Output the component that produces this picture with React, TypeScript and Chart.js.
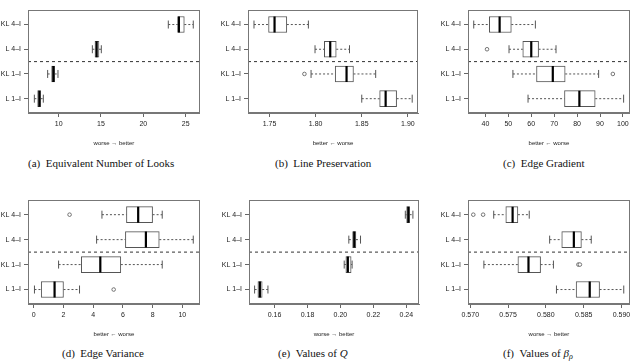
import React, { useEffect, useRef } from "react";
import { Chart, registerables } from "chart.js";

Chart.register(...registerables);

// Row labels, top to bottom
const categories = ["KL 4–I", "L 4–I", "KL 1–I", "L 1–I"];

// Five-number summaries per row: [lower whisker, Q1, median, Q3, upper whisker]
const enlStats = [
  [22.95, 24.06, 24.2, 24.84, 25.9],
  [13.98, 14.29, 14.49, 14.76, 15.04],
  [8.7, 9.17, 9.37, 9.53, 9.92],
  [7.13, 7.52, 7.72, 7.87, 8.19],
];
const enlOutliers: number[][] = [];
const enlTicks = [10, 15, 20, 25];
const enlTickLabels = ["10", "15", "20", "25"];
const enlRange = [6.38, 26.67];

const linePresStats = [
  [1.7331, 1.7489, 1.7554, 1.7687, 1.7921],
  [1.7993, 1.8094, 1.8158, 1.8223, 1.8367],
  [1.795, 1.8212, 1.8335, 1.841, 1.8651],
  [1.85, 1.8694, 1.8759, 1.8878, 1.9047],
];
const linePresOutliers = [[2, 1.7878]]; // [row, value]
const linePresTicks = [1.75, 1.8, 1.85, 1.9];
const linePresTickLabels = ["1.75", "1.80", "1.85", "1.90"];
const linePresRange = [1.7266, 1.911];

const gradStats = [
  [34.9, 41.7, 46.2, 51.3, 61.8],
  [50.3, 56.3, 60.0, 63.2, 70.8],
  [52.0, 62.3, 69.4, 74.8, 89.4],
  [58.6, 74.5, 81.0, 87.9, 100.3],
];
const gradOutliers = [[1, 40.7], [2, 95.6]];
const gradTicks = [40, 50, 60, 70, 80, 90, 100];
const gradTickLabels = ["40", "50", "60", "70", "80", "90", "100"];
const gradRange = [32.4, 103.0];

const varStats = [
  [4.59, 6.24, 7.03, 8.0, 8.65],
  [4.23, 6.17, 7.55, 8.45, 10.74],
  [1.67, 3.2, 4.48, 5.86, 8.65],
  [0.045, 0.5, 1.4, 2.0, 3.08],
];
const varOutliers = [[0, 2.41], [3, 5.38]];
const varTicks = [0, 2, 4, 6, 8, 10];
const varTickLabels = ["0", "2", "4", "6", "8", "10"];
const varRange = [-0.39, 11.18];

const qStats = [
  [0.2394, 0.2402, 0.2412, 0.242, 0.244],
  [0.2051, 0.2074, 0.2084, 0.2094, 0.2122],
  [0.2023, 0.2033, 0.2045, 0.2065, 0.2071],
  [0.1479, 0.1499, 0.1511, 0.1525, 0.156],
];
const qOutliers: number[][] = [];
const qTicks = [0.16, 0.18, 0.2, 0.22, 0.24];
const qTickLabels = ["0.16", "0.18", "0.20", "0.22", "0.24"];
const qRange = [0.1445, 0.2477];

const betaStats = [
  [0.5731, 0.5747, 0.5756, 0.5763, 0.5778],
  [0.5805, 0.5821, 0.5837, 0.5847, 0.586],
  [0.5718, 0.5763, 0.5777, 0.5793, 0.581],
  [0.5814, 0.584, 0.5858, 0.5871, 0.5903],
];
const betaOutliers = [[0, 0.5704], [0, 0.5717], [2, 0.5843], [2, 0.5845]];
const betaTicks = [0.57, 0.575, 0.58, 0.585, 0.59];
const betaTickLabels = ["0.570", "0.575", "0.580", "0.585", "0.590"];
const betaRange = [0.5697, 0.5911];

const WORSE_BETTER = "worse → better";
const BETTER_WORSE = "better ← worse";

const SANS = "'Liberation Sans', Arial, Helvetica, sans-serif";
const SERIF = "'Liberation Serif', 'Times New Roman', serif";

type PanelSpec = {
  stats: number[][];
  outliers: number[][];
  ticks: number[];
  tickLabels: string[];
  range: number[];
  axisTitle: string;
  left: number;
  top: number;
  width: number;
  height: number;
  padRight: number;
};

const framePlugin = {
  id: "frame",
  afterDraw(chart: any) {
    const { ctx, chartArea: a } = chart;
    ctx.save();
    ctx.strokeStyle = "#777";
    ctx.lineWidth = 1;
    const l = Math.round(a.left) + 0.5;
    const t = Math.round(a.top) + 0.5;
    const r = Math.round(a.right) - 0.5;
    const b = Math.round(a.bottom) - 0.5;
    ctx.strokeRect(l, t, r - l, b - t);
    ctx.restore();
  },
};

function BoxPanel({ spec }: { spec: PanelSpec }) {
  const ref = useRef<HTMLCanvasElement>(null);
  useEffect(() => {
    const canvas = ref.current;
    if (!canvas) return;
    const { stats, outliers, ticks, tickLabels, range, axisTitle } = spec;
    const pos = (i: number) => i + 1;
    const datasets: any[] = [];
    // dashed separator between 4-I and 1-I groups
    datasets.push({
      type: "line",
      data: [
        { x: range[0], y: 2.5 },
        { x: range[1], y: 2.5 },
      ],
      borderColor: "#333",
      borderWidth: 1,
      borderDash: [3, 3],
      pointRadius: 0,
      order: 10,
    });
    stats.forEach((s, i) => {
      datasets.push({
        type: "line",
        data: [
          { x: s[0], y: pos(i) },
          { x: s[1], y: pos(i) },
        ],
        borderColor: "#555",
        borderWidth: 1,
        borderDash: [2, 2],
        pointRadius: 0,
        order: 8,
      });
      datasets.push({
        type: "line",
        data: [
          { x: s[3], y: pos(i) },
          { x: s[4], y: pos(i) },
        ],
        borderColor: "#555",
        borderWidth: 1,
        borderDash: [2, 2],
        pointRadius: 0,
        order: 8,
      });
    });
    // whisker caps
    datasets.push({
      type: "line",
      showLine: false,
      data: stats.flatMap((s, i) => [
        { x: s[0], y: pos(i) },
        { x: s[4], y: pos(i) },
      ]),
      pointStyle: "line",
      pointRotation: 90,
      pointRadius: 4,
      pointBorderWidth: 1,
      pointBorderColor: "#555",
      order: 7,
    });
    // boxes
    datasets.push({
      type: "bar",
      data: stats.map((s, i) => ({ x: [s[1], s[3]], y: pos(i) })),
      backgroundColor: "#fff",
      borderColor: "#555",
      borderWidth: 1,
      borderSkipped: false,
      barThickness: 16,
      order: 5,
    });
    // medians
    datasets.push({
      type: "line",
      showLine: false,
      data: stats.map((s, i) => ({ x: s[2], y: pos(i) })),
      pointStyle: "line",
      pointRotation: 90,
      pointRadius: 8,
      pointBorderWidth: 2.2,
      pointBorderColor: "#000",
      order: 1,
    });
    // outliers
    datasets.push({
      type: "line",
      showLine: false,
      data: outliers.map(([r, v]) => ({ x: v, y: pos(r) })),
      pointStyle: "circle",
      pointRadius: 1.8,
      pointBorderWidth: 0.8,
      pointBorderColor: "#555",
      pointBackgroundColor: "#fff",
      order: 1,
    });

    const chart = new Chart(canvas, {
      type: "bar",
      data: { datasets },
      plugins: [framePlugin],
      options: {
        indexAxis: "y",
        responsive: false,
        devicePixelRatio: 1,
        animation: false,
        events: [],
        layout: { padding: { left: 0, right: spec.padRight, top: 0, bottom: 0 } },
        plugins: { legend: { display: false }, tooltip: { enabled: false }, title: { display: false } },
        scales: {
          x: {
            type: "linear",
            position: "bottom",
            min: range[0],
            max: range[1],
            bounds: "data",
            offset: false,
            afterBuildTicks: (s: any) => {
              s.ticks = ticks.map((v) => ({ value: v }));
            },
            afterFit: (s: any) => {
              s.height = 34;
              s.paddingLeft = 0;
              s.paddingRight = 0;
            },
            ticks: {
              autoSkip: false,
              maxRotation: 0,
              padding: 3,
              color: "#222",
              font: { family: SANS, size: 7 },
              callback: (_v: any, idx: number) => tickLabels[idx],
            },
            grid: { drawOnChartArea: false, drawTicks: true, tickLength: 4, color: "#666", offset: false },
            border: { display: true, color: "#777" },
            title: {
              display: true,
              text: axisTitle,
              color: "#222",
              font: { family: SANS, size: 6 },
              padding: { top: 0, bottom: 0 },
            },
          },
          y: {
            type: "linear",
            reverse: true,
            min: 0.42,
            max: 4.58,
            bounds: "data",
            offset: false,
            afterBuildTicks: (s: any) => {
              s.ticks = categories.map((_c, i) => ({ value: pos(i) }));
            },
            afterFit: (s: any) => {
              s.width = 28;
              s.paddingTop = 0;
              s.paddingBottom = 0;
            },
            ticks: {
              autoSkip: false,
              padding: 3,
              color: "#222",
              font: { family: SANS, size: 7 },
              callback: (_v: any, idx: number) => categories[idx],
            },
            grid: { drawOnChartArea: false, drawTicks: true, tickLength: 4, color: "#666", offset: false },
            border: { display: true, color: "#777" },
          },
        },
      } as any,
    } as any);
    return () => chart.destroy();
  }, [spec]);
  return (
    <canvas
      ref={ref}
      width={spec.width}
      height={spec.height}
      style={{ position: "absolute", left: spec.left, top: spec.top, width: spec.width, height: spec.height }}
    />
  );
}

const panels: PanelSpec[] = [
  { stats: enlStats, outliers: enlOutliers, ticks: enlTicks, tickLabels: enlTickLabels, range: enlRange, axisTitle: WORSE_BETTER, left: 0, top: 0, width: 210, height: 147, padRight: 10 },
  { stats: linePresStats, outliers: linePresOutliers, ticks: linePresTicks, tickLabels: linePresTickLabels, range: linePresRange, axisTitle: BETTER_WORSE, left: 220, top: 0, width: 210, height: 147, padRight: 12 },
  { stats: gradStats, outliers: gradOutliers, ticks: gradTicks, tickLabels: gradTickLabels, range: gradRange, axisTitle: BETTER_WORSE, left: 440, top: 0, width: 200, height: 147, padRight: 1 },
  { stats: varStats, outliers: varOutliers, ticks: varTicks, tickLabels: varTickLabels, range: varRange, axisTitle: BETTER_WORSE, left: 0, top: 190, width: 210, height: 148, padRight: 10 },
  { stats: qStats, outliers: qOutliers, ticks: qTicks, tickLabels: qTickLabels, range: qRange, axisTitle: WORSE_BETTER, left: 221, top: 190, width: 210, height: 148, padRight: 12 },
  { stats: betaStats, outliers: betaOutliers, ticks: betaTicks, tickLabels: betaTickLabels, range: betaRange, axisTitle: WORSE_BETTER, left: 440, top: 190, width: 200, height: 148, padRight: 1 },
];

const captionStyle = (left: number, top: number): React.CSSProperties => ({
  position: "absolute",
  left,
  top,
  fontFamily: SERIF,
  fontSize: 11,
  lineHeight: "13px",
  whiteSpace: "nowrap",
  color: "#111",
});

export default function App() {
  return (
    <div style={{ position: "absolute", left: 0, top: 0, width: 640, height: 363, background: "#fff", overflow: "hidden" }}>
      {panels.map((p, i) => (
        <BoxPanel key={i} spec={p} />
      ))}
      <div style={captionStyle(28, 157)}>(a)&ensp;Equivalent Number of Looks</div>
      <div style={captionStyle(275, 157)}>(b)&ensp;Line Preservation</div>
      <div style={captionStyle(503, 157)}>(c)&ensp;Edge Gradient</div>
      <div style={captionStyle(62, 347)}>(d)&ensp;Edge Variance</div>
      <div style={captionStyle(278, 347)}>(e)&ensp;Values of <i>Q</i></div>
      <div style={captionStyle(503, 347)}>
        (f)&ensp;Values of <i>β</i>
        <sub style={{ fontSize: 8, lineHeight: 0, verticalAlign: "-2px" }}>
          <i>ρ</i>
        </sub>
      </div>
    </div>
  );
}
